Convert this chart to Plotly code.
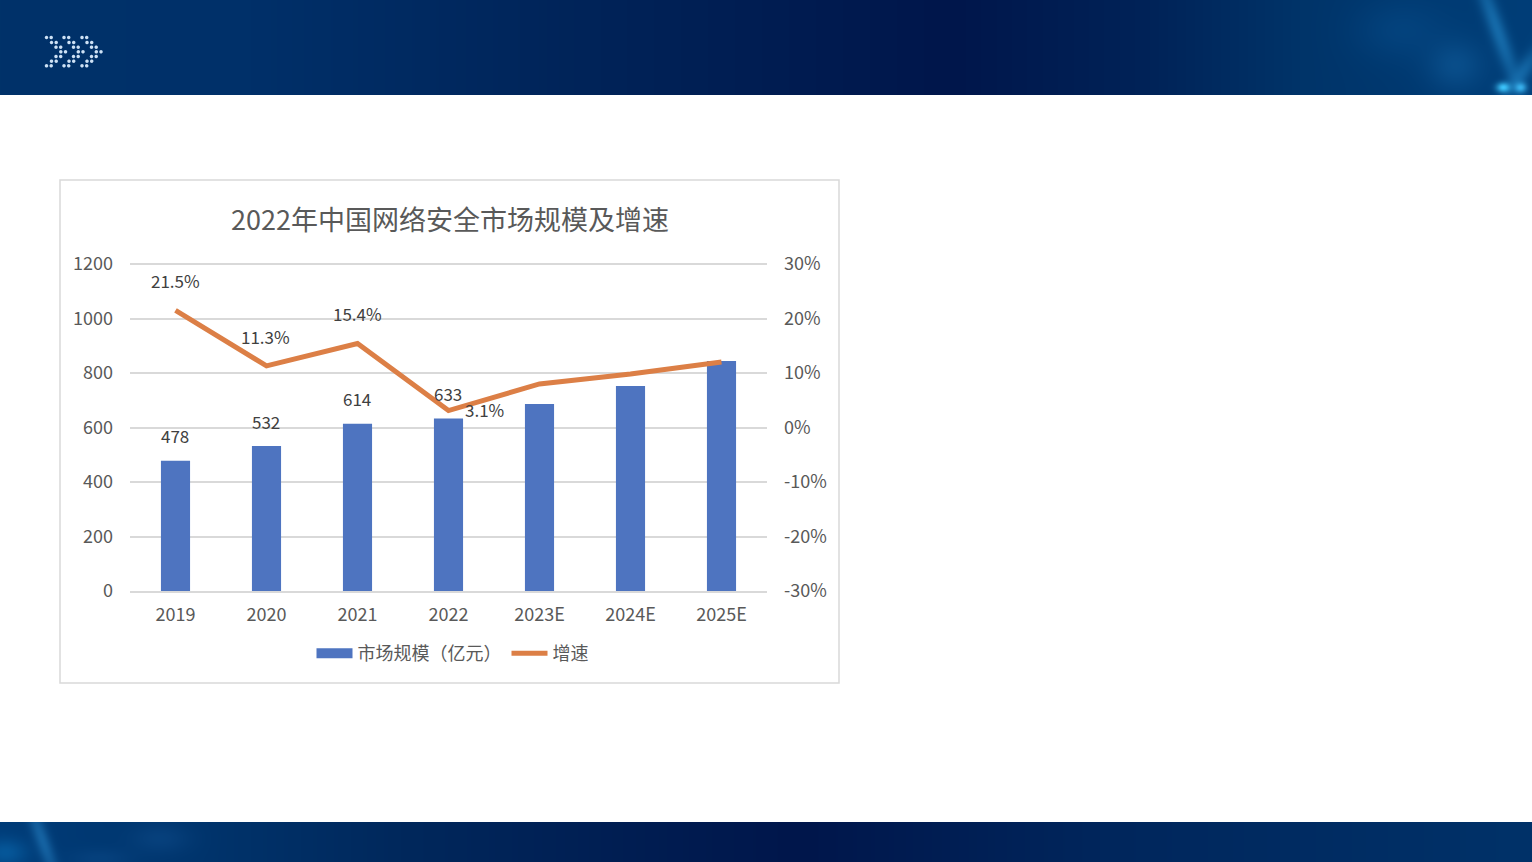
import base64, struct, zlib
import numpy as np
import plotly.graph_objects as go

# ---------- data ----------
categories = ["2019", "2020", "2021", "2022", "2023E", "2024E", "2025E"]
market_size = [478, 532, 614, 633, 686, 752, 844]
growth_pct = [21.5, 11.3, 15.4, 3.1, 8.0, 9.8, 12.0]
size_labels = ["478", "532", "614", "633"]
growth_labels = ["21.5%", "11.3%", "15.4%", "3.1%"]
left_ticks = [0, 200, 400, 600, 800, 1000, 1200]
right_ticks = [-30, -20, -10, 0, 10, 20, 30]
right_tick_text = ["-30%", "-20%", "-10%", "0%", "10%", "20%", "30%"]
title_text = "2022年中国网络安全市场规模及增速"
bar_name = "市场规模（亿元）"
line_name = "增速"

# ---------- label placement (pixel shifts) ----------
size_shift = [25, 25, 25, 25]
growth_shift = [(0, 30), (-1, 29), (0, 30), (36, 1)]

W, H = 1532, 862
FONT = "Noto Sans CJK SC"
GREY = "#595959"
DARK = "#404040"
GRID = "#d9d9d9"


# ---------- decorative page backdrop ----------
def png_uri(arr):
    h, w, _ = arr.shape
    raw = b"".join(b"\x00" + arr[i].tobytes() for i in range(h))

    def chunk(tag, data):
        body = tag + data
        return struct.pack(">I", len(data)) + body + struct.pack(">I", zlib.crc32(body))

    png = (b"\x89PNG\r\n\x1a\n"
           + chunk(b"IHDR", struct.pack(">IIBBBBB", w, h, 8, 2, 0, 0, 0))
           + chunk(b"IDAT", zlib.compress(raw, 9))
           + chunk(b"IEND", b""))
    return "data:image/png;base64," + base64.b64encode(png).decode()


def band(x_stops, colors, y0, y1):
    xs = np.arange(W)
    rgb = np.stack([np.interp(xs, x_stops, [c[i] for c in colors]) for i in range(3)], axis=1)
    return np.repeat(rgb[None, :, :], y1 - y0, axis=0)


def glow(img, y0, cx, cy, sx, sy, color, amount, tilt=0.0):
    h, w, _ = img.shape
    yy, xx = np.mgrid[y0:y0 + h, 0:w]
    d = ((xx - cx - tilt * (yy - cy)) / sx) ** 2 + ((yy - cy) / sy) ** 2
    a = (amount * np.exp(-d))[..., None]
    img[:] = img * (1 - a) + np.array(color) * a


canvas = np.full((H, W, 3), 255.0)

head = band([0, 250, 600, 950, 1150, 1300, 1532],
            [(0, 50, 105), (0, 48, 105), (0, 35, 88), (0, 22, 75), (0, 35, 88), (0, 52, 105), (0, 62, 120)], 0, 95)
glow(head, 0, 1400, 30, 45, 30, (10, 85, 150), 0.35)
glow(head, 0, 1455, 65, 28, 25, (20, 100, 165), 0.45)
glow(head, 0, 1497, 30, 9, 60, (30, 125, 190), 0.7, tilt=0.35)
glow(head, 0, 1522, 72, 10, 25, (30, 125, 190), 0.6, tilt=-0.6)
glow(head, 0, 1503, 87, 7, 5, (60, 195, 250), 1.0)
glow(head, 0, 1520, 87, 6, 5, (60, 185, 245), 0.9)

foot = band([0, 200, 400, 800, 1100, 1532],
            [(0, 60, 120), (0, 52, 108), (0, 40, 92), (0, 22, 75), (0, 38, 92), (0, 50, 105)], 822, 862)
glow(foot, 822, 42, 840, 8, 40, (30, 115, 180), 0.7, tilt=0.35)
glow(foot, 822, 5, 852, 22, 14, (10, 105, 175), 0.6)
glow(foot, 822, 160, 838, 30, 15, (20, 85, 150), 0.35)
glow(foot, 822, 100, 858, 30, 10, (20, 85, 150), 0.3)

canvas[0:95] = head
canvas[822:862] = foot

# chevron logo
logo_y = [37, 42, 46.7, 51.3, 56, 60.7, 65.3]
logo_x = [46, 51, 55.5, 60.3, 55.5, 51, 46]
yy, xx = np.mgrid[30:72, 40:106]
cover = np.zeros(xx.shape)
for off in (0, 17.5, 35.5):
    for ly, lx in zip(logo_y, logo_x):
        for dx in (0, 4.7):
            r = np.hypot(xx - (lx + off + dx), yy - ly)
            cover = np.maximum(cover, np.clip(2.2 - r, 0, 1))
cover = cover[..., None]
canvas[30:72, 40:106] = canvas[30:72, 40:106] * (1 - cover) + np.array((205, 225, 245)) * cover

backdrop = png_uri(np.clip(canvas, 0, 255).astype(np.uint8))

# ---------- figure ----------
fig = go.Figure()
fig.add_bar(x=categories, y=market_size, name=bar_name, marker=dict(color="#4e74c0", line_width=0),
            showlegend=False, legendgroup="a", yaxis="y", hoverinfo="x+y")
fig.add_scatter(x=[categories[0]], y=[None], mode="lines", name=bar_name, legendgroup="a",
                line=dict(color="#4e74c0", width=10), yaxis="y")
fig.add_scatter(x=categories, y=growth_pct, mode="lines", name=line_name, yaxis="y2",
                line=dict(color="#dc7f46", width=5), cliponaxis=False)

annotations = []
for i, (val, lab, dy) in enumerate(zip(market_size, size_labels, size_shift)):
    annotations.append(dict(x=i, xref="x", y=val, yref="y", text=lab, showarrow=False, xshift=-1, yshift=dy,
                            font=dict(family=FONT, size=17, color=DARK)))
for i, (val, lab, (dx, dy)) in enumerate(zip(growth_pct, growth_labels, growth_shift)):
    annotations.append(dict(x=i, xref="x", y=val, yref="y2", text=lab, showarrow=False, xshift=dx, yshift=dy,
                            font=dict(family=FONT, size=17, color=DARK)))

fig.update_layout(
    width=W, height=H, autosize=False,
    margin=dict(l=0, r=0, t=0, b=0, pad=0),
    paper_bgcolor="white", plot_bgcolor="rgba(0,0,0,0)",
    font=dict(family=FONT, size=18, color=GREY),
    bargap=0.68,
    title=dict(text=title_text, x=450 / W, xanchor="center", y=1 - 221 / H, yanchor="middle",
               font=dict(family=FONT, size=27, color=GREY)),
    xaxis=dict(domain=[130 / W, 767 / W], type="category", categoryorder="array", categoryarray=categories,
               range=[-0.5, 6.5], showgrid=False, showline=True, linecolor=GRID, linewidth=1.5, ticks="",
               ticklabelstandoff=7, automargin=False,
               tickfont=dict(family=FONT, size=18, color=GREY), zeroline=False),
    yaxis=dict(domain=[1 - 591 / H, 1 - 261 / H], range=[0, 1211], tickvals=left_ticks, ticks="",
               showgrid=True, gridcolor=GRID, gridwidth=1.5, zeroline=False, showline=False, automargin=False,
               ticklabelstandoff=16, tickfont=dict(family=FONT, size=18, color=GREY)),
    yaxis2=dict(domain=[1 - 591 / H, 1 - 261 / H], range=[-30, 30.55], overlaying="y", side="right", anchor="x",
                tickvals=right_ticks, ticktext=right_tick_text, ticks="", showgrid=False, zeroline=False,
                showline=False, automargin=False, ticklabelstandoff=16,
                tickfont=dict(family=FONT, size=18, color=GREY)),
    legend=dict(orientation="h", x=452.5 / W, xanchor="center", y=1 - 653.5 / H, yanchor="middle",
                itemwidth=36, tracegroupgap=0, font=dict(family=FONT, size=18, color=GREY),
                bgcolor="rgba(0,0,0,0)"),
    annotations=annotations,
    images=[dict(source=backdrop, xref="paper", yref="paper", x=0, y=1, sizex=1, sizey=1,
                 xanchor="left", yanchor="top", sizing="stretch", layer="below")],
    shapes=[dict(type="rect", xref="paper", yref="paper", x0=60 / W, x1=839 / W, y0=1 - 683 / H, y1=1 - 180 / H,
                 line=dict(color=GRID, width=1.5), fillcolor="white", layer="below")],
)

fig.write_html("out.html", post_script="document.body.style.margin='0';document.documentElement.style.overflow='hidden';",
               config={"displayModeBar": False})
